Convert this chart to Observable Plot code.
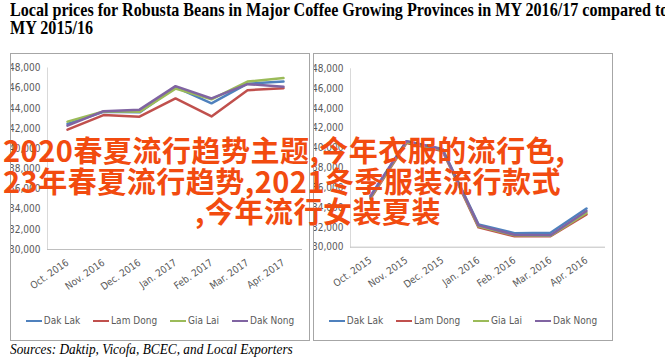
<!DOCTYPE html>
<html><head><meta charset="utf-8">
<script src="https://cdn.jsdelivr.net/npm/d3@7"></script>
<script src="https://cdn.jsdelivr.net/npm/@observablehq/plot@0.6"></script>
<style>
body{margin:0;background:#fff;}
#root{position:relative;width:665px;height:359px;overflow:hidden;background:#fff;}
#title{position:absolute;left:10px;top:1px;font:bold 19px/18px "Liberation Serif","Times New Roman",serif;white-space:nowrap;transform-origin:0 0;color:#000;}
.panel{position:absolute;top:53px;width:298px;height:286px;border:1px solid #a6a6a6;background:#fff;}
.panel svg{position:absolute;left:0;top:0;}
.legend{position:absolute;top:261px;left:0;right:0;display:flex;justify-content:center;gap:13px;font:10px/12px "Liberation Sans Narrow","DejaVu Sans Condensed",sans-serif;color:#595959;}
.legend span.item{display:flex;align-items:center;}
.sw{display:inline-block;width:16px;height:2.5px;margin-right:2px;}
#overlay{position:absolute;left:3px;top:134px;color:#f24b0f;font:bold 29px/30.5px "Noto Sans CJK SC",sans-serif;letter-spacing:0.5px;white-space:nowrap;}
#overlay div.l3{margin-left:192px;}
#caption{position:absolute;left:10px;top:340px;font:italic 15px/18px "Liberation Serif","Times New Roman",serif;white-space:nowrap;transform-origin:0 0;color:#000;}
</style></head>
<body>
<div id="root">
  <div id="title"><div id="t1"></div><div id="t2"></div></div>
  <div class="panel" id="p1" style="left:10px"></div>
  <div class="panel" id="p2" style="left:313px"></div>
  <div id="overlay"><div id="o1"></div><div id="o2"></div><div class="l3" id="o3"></div></div>
  <div id="caption"></div>
</div>
<script>
// ---- data ----
const titleLines = ["Local prices for Robusta Beans in Major Coffee Growing Provinces in MY 2016/17 compared to", "MY 2015/16"];
const captionText = "Sources: Daktip, Vicofa, BCEC, and Local Exporters";
const overlayLines = ["2020春夏流行趋势主题,今年衣服的流行色,", "23年春夏流行趋势,2021冬季服装流行款式", ",今年流行女装夏装"];

const provinces = ["Dak Lak", "Lam Dong", "Gia Lai", "Dak Nong"];
const colors = ["#4f81bd", "#c0504d", "#9bbb59", "#8064a2"];
const yTicks = [30000, 32000, 34000, 36000, 38000, 40000, 42000, 44000, 46000, 48000];

const months1617 = ["Oct. 2016", "Nov. 2016", "Dec. 2016", "Jan. 2017", "Feb. 2017", "Mar. 2017", "Apr. 2017"];
const dakLak1617   = [42450, 43650, 43600, 46100, 44500, 46450, 46650];
const lamDong1617  = [41880, 43330, 43170, 44980, 43200, 45800, 46000];
const giaLai1617   = [42680, 43700, 43650, 45950, 44900, 46650, 47000];
const dakNong1617  = [42280, 43720, 43870, 46200, 44980, 46400, 46150];

const months1516 = ["Oct. 2015", "Nov. 2015", "Dec. 2015", "Jan. 2016", "Feb. 2016", "Mar. 2016", "Apr. 2016"];
const dakLak1516   = [35200, 40700, 39900, 32300, 31420, 31450, 33900];
const lamDong1516  = [34900, 40500, 39700, 32000, 31100, 31100, 33300];
const giaLai1516   = [35000, 40600, 39800, 32100, 31200, 31150, 33450];
const dakNong1516  = [35100, 40700, 39850, 32200, 31250, 31200, 33650];

// ---- build ----
function rows(months, series) {
  const out = [];
  series.forEach((vals, i) => vals.forEach((v, j) => out.push({month: months[j], province: provinces[i], price: v})));
  return out;
}

function chart(months, series, mt, mb) {
  const data = rows(months, series);
  return Plot.plot({
    width: 298, height: 240,
    marginLeft: 36, marginRight: 7, marginTop: mt, marginBottom: mb,
    style: {fontFamily: '"Liberation Sans Narrow","DejaVu Sans Condensed",sans-serif', fontSize: "10px", color: "#595959", background: "transparent"},
    x: {type: "point", domain: months, padding: 0.5},
    y: {domain: [30000, 48000]},
    color: {domain: provinces, range: colors},
    marks: [
      Plot.frame({anchor: "left", stroke: "#d9d9d9"}),
      Plot.ruleY([30000], {stroke: "#bfbfbf"}),
      Plot.axisY({ticks: yTicks, tickFormat: d3.format(","), tickSize: 0, tickPadding: 7, label: null, fill: "#595959"}),
      Plot.axisX({tickRotate: -35, tickSize: 0, tickPadding: 12, label: null, fill: "#595959"}),
      Plot.line(data, {x: "month", y: "price", stroke: "province", strokeWidth: 2.5})
    ]
  });
}

function legend() {
  const el = document.createElement("div");
  el.className = "legend";
  provinces.forEach((p, i) => {
    const it = document.createElement("span");
    it.className = "item";
    it.innerHTML = `<span class="sw" style="background:${colors[i]}"></span>${p}`;
    el.appendChild(it);
  });
  return el;
}

const p1 = document.getElementById("p1");
p1.appendChild(chart(months1617, [dakLak1617, lamDong1617, giaLai1617, dakNong1617], 13.5, 45));
p1.appendChild(legend());
const p2 = document.getElementById("p2");
p2.appendChild(chart(months1516, [dakLak1516, lamDong1516, giaLai1516, dakNong1516], 14.3, 47.3));
p2.appendChild(legend());

document.getElementById("t1").textContent = titleLines[0];
document.getElementById("t2").textContent = titleLines[1];
const title = document.getElementById("title");
const tw = document.getElementById("t1").scrollWidth;
title.style.transform = `scaleX(${658 / tw})`;

const cap = document.getElementById("caption");
cap.textContent = captionText;
cap.style.transform = `scaleX(${283 / cap.scrollWidth})`;

document.getElementById("o1").textContent = overlayLines[0];
document.getElementById("o2").textContent = overlayLines[1];
document.getElementById("o3").textContent = overlayLines[2];
</script>
</body></html>
